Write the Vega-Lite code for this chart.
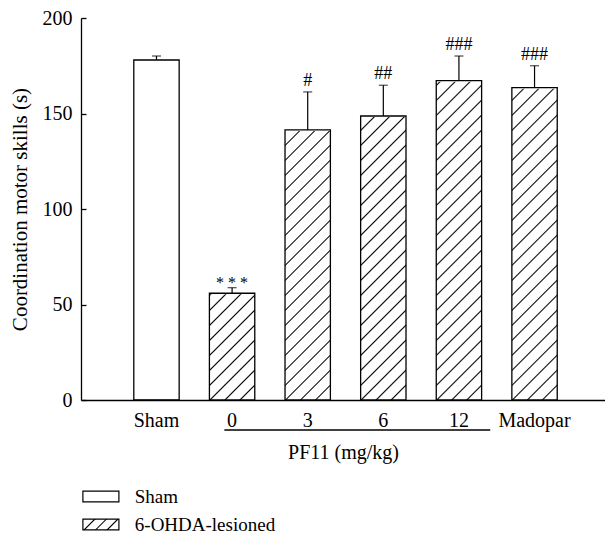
{
  "$schema": "https://vega.github.io/schema/vega-lite/v6.json",
  "width": 524,
  "height": 382,
  "autosize": {"type": "none"},
  "padding": {"left": 81, "top": 18, "right": 0, "bottom": 133},
  "background": "white",
  "config": {
    "font": "Liberation Serif",
    "view": {"stroke": null},
    "axis": {
      "domainColor": "black", "domainWidth": 1.3, "tickColor": "black", "tickWidth": 1.3,
      "labelColor": "black", "titleColor": "black",
      "labelFont": "Liberation Serif", "titleFont": "Liberation Serif",
      "labelFontSize": 20, "titleFontSize": 20, "labelFontWeight": "normal", "titleFontWeight": "normal", "grid": false
    },
    "legend": {"labelFont": "Liberation Serif", "labelFontSize": 19, "labelColor": "black", "labelFontWeight": "normal"}
  },
  "datasets": {
    "bars": [
      {"group": "Sham", "cond": "Sham", "value": 178.0, "upper": 180.1, "sig": ""},
      {"group": "0", "cond": "6-OHDA-lesioned", "value": 55.9, "upper": 58.8, "sig": "* * *"},
      {"group": "3", "cond": "6-OHDA-lesioned", "value": 141.4, "upper": 161.3, "sig": "#"},
      {"group": "6", "cond": "6-OHDA-lesioned", "value": 148.7, "upper": 164.8, "sig": "##"},
      {"group": "12", "cond": "6-OHDA-lesioned", "value": 167.2, "upper": 180.1, "sig": "###"},
      {"group": "Madopar", "cond": "6-OHDA-lesioned", "value": 163.5, "upper": 175.0, "sig": "###"}
    ],
    "bracket": [{"label": "PF11 (mg/kg)", "from": "0", "to": "12"}]
  },
  "data": {"name": "bars"},
  "layer": [
    {
      "transform": [{"filter": "datum.cond === '6-OHDA-lesioned'"}],
      "mark": {
        "type": "bar", "strokeWidth": 0,
        "fill": {
          "gradient": "linear", "x1": 0, "y1": 0, "x2": 0.13103, "y2": 1.10321,
          "stops": [
            {"offset": 0.0141, "color": "#fff"}, {"offset": 0.0176, "color": "#000"}, {"offset": 0.0211, "color": "#fff"},
            {"offset": 0.0492, "color": "#fff"}, {"offset": 0.0527, "color": "#000"}, {"offset": 0.0562, "color": "#fff"},
            {"offset": 0.0843, "color": "#fff"}, {"offset": 0.0878, "color": "#000"}, {"offset": 0.0913, "color": "#fff"},
            {"offset": 0.1193, "color": "#fff"}, {"offset": 0.1228, "color": "#000"}, {"offset": 0.1263, "color": "#fff"},
            {"offset": 0.1544, "color": "#fff"}, {"offset": 0.1579, "color": "#000"}, {"offset": 0.1614, "color": "#fff"},
            {"offset": 0.1895, "color": "#fff"}, {"offset": 0.1930, "color": "#000"}, {"offset": 0.1965, "color": "#fff"},
            {"offset": 0.2246, "color": "#fff"}, {"offset": 0.2281, "color": "#000"}, {"offset": 0.2316, "color": "#fff"},
            {"offset": 0.2597, "color": "#fff"}, {"offset": 0.2632, "color": "#000"}, {"offset": 0.2667, "color": "#fff"},
            {"offset": 0.2948, "color": "#fff"}, {"offset": 0.2983, "color": "#000"}, {"offset": 0.3018, "color": "#fff"},
            {"offset": 0.3299, "color": "#fff"}, {"offset": 0.3334, "color": "#000"}, {"offset": 0.3369, "color": "#fff"},
            {"offset": 0.3650, "color": "#fff"}, {"offset": 0.3685, "color": "#000"}, {"offset": 0.3720, "color": "#fff"},
            {"offset": 0.4001, "color": "#fff"}, {"offset": 0.4036, "color": "#000"}, {"offset": 0.4071, "color": "#fff"},
            {"offset": 0.4352, "color": "#fff"}, {"offset": 0.4387, "color": "#000"}, {"offset": 0.4422, "color": "#fff"},
            {"offset": 0.4703, "color": "#fff"}, {"offset": 0.4738, "color": "#000"}, {"offset": 0.4773, "color": "#fff"},
            {"offset": 0.5054, "color": "#fff"}, {"offset": 0.5089, "color": "#000"}, {"offset": 0.5124, "color": "#fff"},
            {"offset": 0.5405, "color": "#fff"}, {"offset": 0.5440, "color": "#000"}, {"offset": 0.5475, "color": "#fff"},
            {"offset": 0.5756, "color": "#fff"}, {"offset": 0.5791, "color": "#000"}, {"offset": 0.5826, "color": "#fff"},
            {"offset": 0.6107, "color": "#fff"}, {"offset": 0.6142, "color": "#000"}, {"offset": 0.6177, "color": "#fff"},
            {"offset": 0.6458, "color": "#fff"}, {"offset": 0.6493, "color": "#000"}, {"offset": 0.6528, "color": "#fff"},
            {"offset": 0.6809, "color": "#fff"}, {"offset": 0.6844, "color": "#000"}, {"offset": 0.6879, "color": "#fff"},
            {"offset": 0.7160, "color": "#fff"}, {"offset": 0.7195, "color": "#000"}, {"offset": 0.7230, "color": "#fff"},
            {"offset": 0.7511, "color": "#fff"}, {"offset": 0.7546, "color": "#000"}, {"offset": 0.7581, "color": "#fff"},
            {"offset": 0.7862, "color": "#fff"}, {"offset": 0.7897, "color": "#000"}, {"offset": 0.7932, "color": "#fff"},
            {"offset": 0.8213, "color": "#fff"}, {"offset": 0.8248, "color": "#000"}, {"offset": 0.8283, "color": "#fff"},
            {"offset": 0.8564, "color": "#fff"}, {"offset": 0.8599, "color": "#000"}, {"offset": 0.8634, "color": "#fff"},
            {"offset": 0.8915, "color": "#fff"}, {"offset": 0.8950, "color": "#000"}, {"offset": 0.8985, "color": "#fff"},
            {"offset": 0.9266, "color": "#fff"}, {"offset": 0.9301, "color": "#000"}, {"offset": 0.9336, "color": "#fff"},
            {"offset": 0.9617, "color": "#fff"}, {"offset": 0.9652, "color": "#000"}, {"offset": 0.9687, "color": "#fff"}
          ]
        }
      },
      "encoding": {
        "x": {"field": "group", "type": "nominal", "sort": ["Sham", "0", "3", "6", "12", "Madopar"],
          "scale": {"paddingInner": 0.4, "paddingOuter": 0.665, "align": 0.525},
          "axis": {"title": "PF11 (mg/kg)", "labelAngle": 0, "ticks": false, "labelPadding": 10, "titlePadding": 12}},
        "y": {"datum": 200, "type": "quantitative", "scale": {"domain": [0, 200], "nice": false},
          "axis": {"title": "Coordination motor skills (s)", "titleFontSize": 21, "values": [0, 50, 100, 150, 200], "tickSize": -5, "labelPadding": 14, "titlePadding": 12}},
        "y2": {"datum": 0}
      }
    },
    {
      "transform": [{"filter": "datum.cond === '6-OHDA-lesioned'"}],
      "mark": {"type": "bar", "fill": "white", "stroke": "white", "strokeWidth": 2},
      "encoding": {
        "x": {"field": "group", "type": "nominal", "sort": ["Sham", "0", "3", "6", "12", "Madopar"]},
        "y": {"field": "value", "type": "quantitative"},
        "y2": {"datum": 200}
      }
    },
    {
      "mark": {"type": "bar", "fill": "white", "fillOpacity": 0, "stroke": "black", "strokeWidth": 1.3},
      "encoding": {
        "x": {"field": "group", "type": "nominal", "sort": ["Sham", "0", "3", "6", "12", "Madopar"]},
        "y": {"field": "value", "type": "quantitative"}
      }
    },
    {
      "mark": {"type": "rule", "color": "black", "strokeWidth": 1.2},
      "encoding": {
        "x": {"field": "group", "type": "nominal", "sort": ["Sham", "0", "3", "6", "12", "Madopar"]},
        "y": {"field": "value", "type": "quantitative"},
        "y2": {"field": "upper"}
      }
    },
    {
      "mark": {"type": "tick", "color": "black", "orient": "horizontal", "size": 9, "thickness": 1.2},
      "encoding": {
        "x": {"field": "group", "type": "nominal", "sort": ["Sham", "0", "3", "6", "12", "Madopar"]},
        "y": {"field": "upper", "type": "quantitative"}
      }
    },
    {
      "transform": [{"filter": "datum.sig !== '' && datum.group !== '0'"}],
      "mark": {"type": "text", "font": "Liberation Serif", "fontSize": 18, "fill": "black", "baseline": "alphabetic", "dy": -6},
      "encoding": {
        "x": {"field": "group", "type": "nominal", "sort": ["Sham", "0", "3", "6", "12", "Madopar"]},
        "y": {"field": "upper", "type": "quantitative"},
        "text": {"field": "sig"}
      }
    },
    {
      "transform": [{"filter": "datum.group === '0'"}],
      "mark": {"type": "text", "font": "Liberation Serif", "fontSize": 16, "fill": "black", "baseline": "alphabetic", "dy": 0},
      "encoding": {
        "x": {"field": "group", "type": "nominal", "sort": ["Sham", "0", "3", "6", "12", "Madopar"]},
        "y": {"field": "upper", "type": "quantitative"},
        "text": {"field": "sig"}
      }
    },
    {
      "data": {"name": "bracket"},
      "mark": {"type": "rule", "color": "black", "strokeWidth": 1.3},
      "encoding": {
        "x": {"datum": "0", "bandPosition": 0.33},
        "x2": {"datum": "12", "bandPosition": 1.19},
        "y": {"datum": -15.7, "type": "quantitative"}
      }
    },
    {
      "transform": [{"filter": "false"}],
      "mark": {"type": "point", "filled": true, "stroke": "black", "strokeWidth": 1.2, "opacity": 1},
      "encoding": {
        "fill": {
          "field": "cond", "type": "nominal",
          "scale": {"domain": ["Sham", "6-OHDA-lesioned"], "range": ["white", {"expr": "{gradient: 'linear', x1: 0, y1: 0, x2: 1.1926, y2: 0.3578, stops: [{offset: 0.2244, color: '#fff'}, {offset: 0.2564, color: '#000'}, {offset: 0.2884, color: '#fff'}, {offset: 0.4701, color: '#fff'}, {offset: 0.5021, color: '#000'}, {offset: 0.5341, color: '#fff'}, {offset: 0.7159, color: '#fff'}, {offset: 0.7479, color: '#000'}, {offset: 0.7799, color: '#fff'}]}"}]},
          "legend": {
            "orient": "none", "legendX": 10.4, "legendY": 469, "title": null,
            "symbolType": "M-3,-0.9H3V0.9H-3Z", "symbolSize": 144,
            "symbolStrokeColor": "black", "symbolStrokeWidth": 1.2, "symbolOpacity": 1,
            "labelOffset": 24.4, "rowPadding": 8,
            "encode": {"symbols": {"update": {"stroke": {"value": "black"}, "strokeWidth": {"value": 1.2}}}}
          }
        }
      }
    }
  ]
}
